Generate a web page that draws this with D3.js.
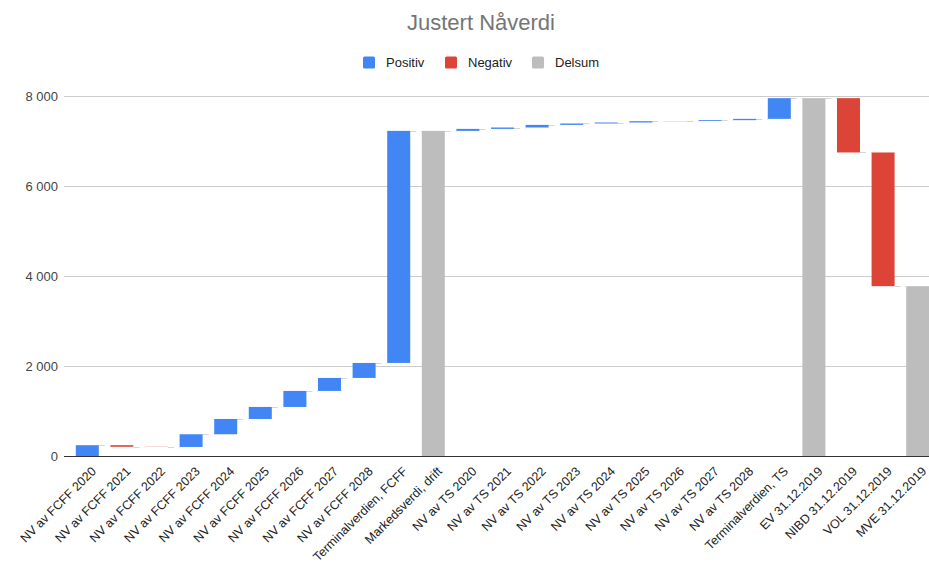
<!DOCTYPE html>
<html>
<head>
<meta charset="utf-8">
<script src="https://cdn.jsdelivr.net/npm/d3@7"></script>
<style>
  html, body { margin: 0; padding: 0; background: #fff; }
  svg { display: block; font-family: "Liberation Sans", Arial, sans-serif; }
</style>
</head>
<body>
<svg id="chart" width="929" height="567"></svg>
<script>
// Waterfall: present value build-up to market value of equity
const categories = [
  "NV av FCFF 2020", "NV av FCFF 2021", "NV av FCFF 2022", "NV av FCFF 2023",
  "NV av FCFF 2024", "NV av FCFF 2025", "NV av FCFF 2026", "NV av FCFF 2027",
  "NV av FCFF 2028", "Terminalverdien, FCFF", "Markedsverdi, drift",
  "NV av TS 2020", "NV av TS 2021", "NV av TS 2022", "NV av TS 2023",
  "NV av TS 2024", "NV av TS 2025", "NV av TS 2026", "NV av TS 2027",
  "NV av TS 2028", "Terminalverdien, TS", "EV 31.12.2019",
  "NIBD 31.12.2019", "VOL 31.12.2019", "MVE 31.12.2019"
];
// change per step (subtotal steps carry null and show the running total)
const deltas = [
  240, -35, -4, 282, 340, 267, 356, 289, 333, 5157, null,
  44, 31, 58, 31, 22, 29, 4, 19, 29, 460, null,
  -1207, -2971, null
];
const yTicks = [0, 2000, 4000, 6000, 8000];
const legendItems = ["Positiv", "Negativ", "Delsum"];
const colors = { Positiv: "#4285f4", Negativ: "#db4437", Delsum: "#bdbdbd" };

// Running totals -> bar segments
let running = 0;
const bars = categories.map((c, i) => {
  const d = deltas[i];
  if (d === null) {
    return { cat: c, y0: 0, y1: running, kind: "Delsum", end: running };
  }
  const start = running;
  running += d;
  return { cat: c, y0: start, y1: running, kind: d >= 0 ? "Positiv" : "Negativ", end: running };
});

const svg = d3.select("#chart");
const plotTop = 96, plotBottom = 456;

const x = d3.scaleBand()
  .domain(categories)
  .range([64, 941])
  .paddingInner(0.335)
  .paddingOuter(0.341);

const y = d3.scaleLinear().domain([0, 8000]).range([plotBottom, plotTop]);

// Title
svg.append("text")
  .attr("x", 481).attr("y", 30)
  .attr("text-anchor", "middle")
  .attr("font-size", 22)
  .attr("fill", "#757575")
  .text("Justert Nåverdi");

// Legend
const legendX = [363, 445, 532];
const lg = svg.append("g");
legendItems.forEach((k, i) => {
  lg.append("rect")
    .attr("x", legendX[i]).attr("y", 56.5)
    .attr("width", 12).attr("height", 12)
    .attr("rx", 1.5)
    .attr("fill", colors[k]);
  lg.append("text")
    .attr("x", legendX[i] + 23).attr("y", 67)
    .attr("font-size", 13)
    .attr("fill", "#222")
    .text(k);
});

// Gridlines and value labels
const yAxis = d3.axisLeft(y)
  .tickValues(yTicks)
  .tickSize(-(929 - 64))
  .tickPadding(6)
  .tickFormat(v => d3.format(",")(v).replace(/,/g, " "));

const ga = svg.append("g")
  .attr("transform", "translate(64,0)")
  .call(yAxis);
ga.select(".domain").remove();
ga.selectAll(".tick line").attr("stroke", "#cccccc").attr("stroke-width", 1);
ga.selectAll(".tick text")
  .attr("font-size", 13)
  .attr("fill", "#444")
  .attr("font-family", "Liberation Sans, Arial, sans-serif");

// Connectors between consecutive bars
const conn = svg.append("g");
bars.forEach((b, i) => {
  if (i === bars.length - 1) return;
  const nx = bars[i + 1];
  conn.append("line")
    .attr("x1", x(b.cat) + x.bandwidth())
    .attr("x2", x(nx.cat))
    .attr("y1", Math.round(y(b.end)) + 0.5)
    .attr("y2", Math.round(y(b.end)) + 0.5)
    .attr("stroke", "#d6d6d6")
    .attr("stroke-width", 1)
    .attr("stroke-dasharray", "6,5");
});

// Bars
svg.append("g").selectAll("rect")
  .data(bars)
  .join("rect")
  .attr("x", d => x(d.cat))
  .attr("width", x.bandwidth())
  .attr("y", d => y(Math.max(d.y0, d.y1)))
  .attr("height", d => Math.abs(y(d.y0) - y(d.y1)))
  .attr("fill", d => colors[d.kind]);

// Baseline
svg.append("line")
  .attr("x1", 64).attr("x2", 929)
  .attr("y1", y(0) + 0.5).attr("y2", y(0) + 0.5)
  .attr("stroke", "#333").attr("stroke-width", 1);

// Category labels, rotated
const xAxis = d3.axisBottom(x).tickSize(0).tickPadding(0);
const gx = svg.append("g")
  .attr("transform", `translate(0,${plotBottom})`)
  .call(xAxis);
gx.select(".domain").remove();
gx.selectAll(".tick text")
  .attr("font-size", 12.5)
  .attr("fill", "#222")
  .attr("font-family", "Liberation Sans, Arial, sans-serif")
  .attr("text-anchor", "end")
  .attr("dy", 0)
  .attr("transform", "translate(9.5,16) rotate(-45)");
</script>
</body>
</html>
